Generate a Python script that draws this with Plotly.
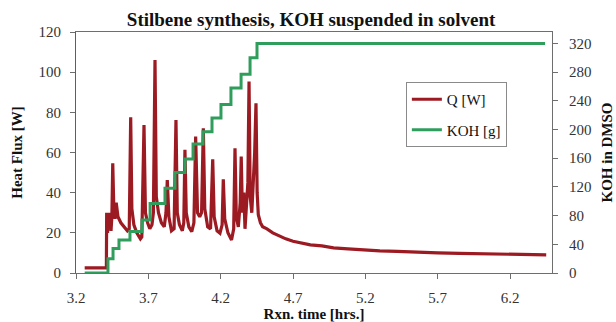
import plotly.graph_objects as go

# Heat flux Q [W] during the reaction
q_time = [3.26, 3.41, 3.412, 3.418, 3.424, 3.430, 3.436, 3.442, 3.448, 3.454,
          3.462, 3.470, 3.478, 3.490, 3.510, 3.530, 3.555, 3.568, 3.578, 3.586,
          3.600, 3.620, 3.645, 3.655, 3.670, 3.680, 3.695, 3.710, 3.725, 3.735,
          3.746, 3.755, 3.770, 3.790, 3.810, 3.822, 3.831, 3.842, 3.860, 3.878,
          3.891, 3.900, 3.915, 3.935, 3.945, 3.953, 3.962, 3.980, 4.000, 4.015,
          4.027, 4.040, 4.055, 4.068, 4.080, 4.090, 4.110, 4.130, 4.145, 4.155,
          4.175, 4.195, 4.210, 4.218, 4.228, 4.250, 4.275, 4.290, 4.299, 4.308,
          4.322, 4.335, 4.342, 4.350, 4.360, 4.368, 4.380, 4.388, 4.396, 4.404,
          4.415, 4.425, 4.435, 4.444, 4.452, 4.460, 4.475, 4.490, 4.520, 4.560,
          4.600, 4.650, 4.700, 4.750, 4.820, 4.900, 4.980, 5.080, 5.180, 5.300,
          5.420, 5.560, 5.700, 5.850, 6.000, 6.150, 6.300, 6.450]
q_watts = [2.6, 2.6, 30, 20, 30, 22, 30, 21, 28, 54.6,
           30, 27, 35, 28, 25, 23, 21, 22, 77.5, 32,
           24, 20, 17, 18, 73.7, 30, 25, 22, 24, 30,
           106, 38, 30, 25, 23, 30, 46.3, 28, 21, 22,
           76.2, 30, 24, 21, 25, 61.3, 30, 23, 20.6, 25,
           67.9, 30, 28, 30, 72, 32, 23, 22, 56.6, 28,
           21, 19.8, 24, 46.7, 27, 20, 16.4, 22, 62.1, 28,
           23, 35, 58, 30, 40, 22, 35, 45, 95.3, 38,
           30, 45, 60, 84.5, 40, 29, 25, 23, 22, 20,
           18.5, 17, 15.8, 15, 14, 13.5, 12.5, 12, 11.5, 11,
           10.8, 10.3, 10, 9.8, 9.5, 9.3, 9.1, 9]

# Cumulative KOH dosed [g] (stepwise additions)
koh_time = [3.26, 3.421, 3.456, 3.497, 3.573, 3.656, 3.712, 3.815, 3.884, 3.953,
            4.009, 4.078, 4.140, 4.202, 4.271, 4.341, 4.403, 4.451, 6.442]
koh_grams = [0, 20, 34, 46, 58, 74, 97, 118, 140, 159,
             180, 197, 216, 235, 258, 277, 300, 320, 320]

x_ticks = [3.2, 3.7, 4.2, 4.7, 5.2, 5.7, 6.2]
q_ticks = [0, 20, 40, 60, 80, 100, 120]
koh_ticks = [0, 40, 80, 120, 160, 200, 240, 280, 320]

RED = "#9c1a22"
GREEN = "#2f9e5c"
SERIF = "Liberation Serif"
TXT = "#333333"
AXC = "#6e6e6e"

fig = go.Figure()
fig.add_trace(go.Scatter(x=q_time, y=q_watts, mode="lines", name="Q [W]",
                         line=dict(color=RED, width=3.2), legendgroup="q"))
fig.add_trace(go.Scatter(x=koh_time, y=koh_grams, mode="lines", name="KOH [g]",
                         line=dict(color=GREEN, width=3, shape="hv"),
                         yaxis="y2", legendgroup="k"))

fig.update_layout(
    width=616, height=322,
    margin=dict(l=76, r=64, t=32, b=49),
    paper_bgcolor="white", plot_bgcolor="white",
    font=dict(family=SERIF, size=15, color=TXT),
    title=dict(text="Stilbene synthesis, KOH suspended in solvent",
               font=dict(family=SERIF, size=19, color="#111111", weight="bold"),
               x=0.505, xanchor="center", y=0.94, yanchor="middle"),
    xaxis=dict(range=[3.2, 6.49], tickvals=x_ticks, ticktext=[f"{v:.1f}" for v in x_ticks],
               showgrid=False, zeroline=False, showline=True, linecolor=AXC, linewidth=1.2,
               mirror=True, ticks="outside", ticklen=5, tickcolor=AXC,
               ticklabelstandoff=6, automargin=False,
               title=dict(text="Rxn. time [hrs.]", standoff=3,
                          font=dict(family=SERIF, size=15, color="#111111", weight="bold"))),
    yaxis=dict(range=[0, 120], tickvals=q_ticks, showgrid=False, zeroline=False,
               showline=True, linecolor="#55606a", linewidth=1.2, mirror=True,
               ticks="outside", ticklen=5, tickcolor=AXC, ticklabelstandoff=6,
               automargin=False,
               title=dict(text="Heat Flux [W]", standoff=12,
                          font=dict(family=SERIF, size=15, color="#111111", weight="bold"))),
    yaxis2=dict(range=[0, 336], tickvals=koh_ticks, overlaying="y", side="right",
                showgrid=False, zeroline=False, showline=True, linecolor=AXC, linewidth=1.2,
                ticks="outside", ticklen=5, tickcolor=AXC, ticklabelstandoff=8,
                automargin=False,
                title=dict(text="KOH in DMSO", standoff=10,
                           font=dict(family=SERIF, size=15, color="#111111", weight="bold"))),
    legend=dict(x=0.693, y=0.7925, xanchor="left", yanchor="top",
                bgcolor="white", bordercolor="#8a8a8a", borderwidth=1,
                font=dict(family=SERIF, size=15, color="#111111"),
                traceorder="grouped", tracegroupgap=8),
    showlegend=True,
)

fig.write_html("out.html")
